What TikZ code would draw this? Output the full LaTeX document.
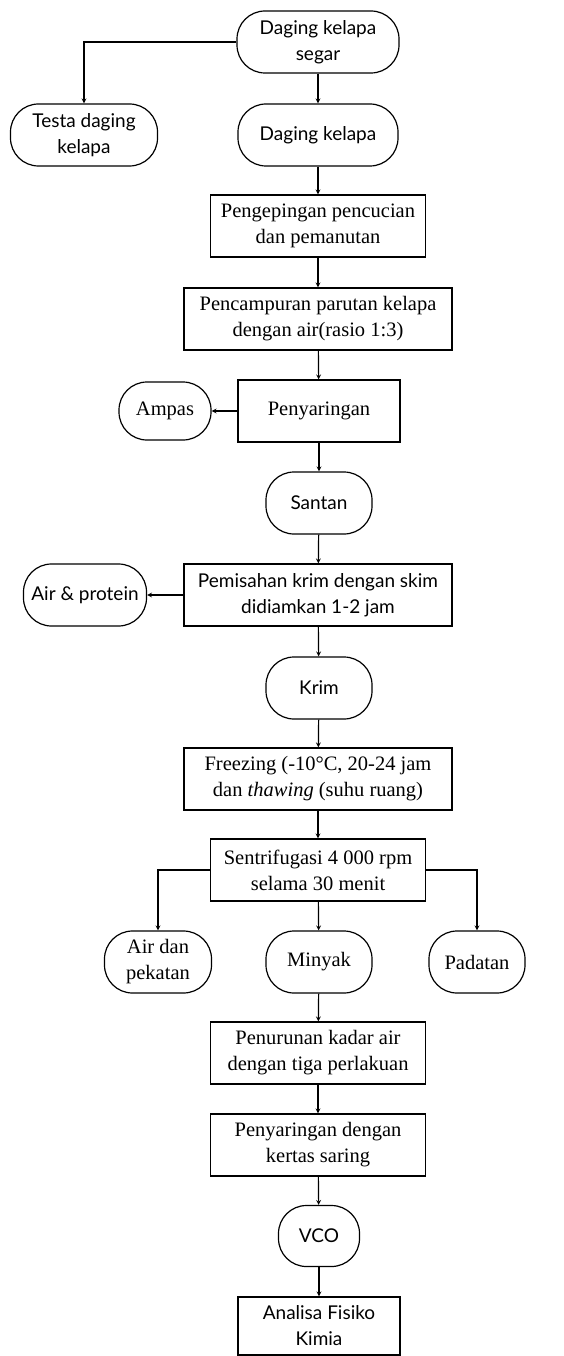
\documentclass[tikz,border=0pt]{standalone}
\usepackage{fontspec}
\setmainfont{Liberation Serif}
\newfontfamily\gillfont{Lato}

\begin{document}
\begin{tikzpicture}[x=1pt, y=-1pt, line width=1.2pt, >=stealth,
    font=\fontsize{20.5}{26}\selectfont,
    proses/.style={draw, align=center, minimum height=62pt, inner sep=1pt},
    hasil/.style={draw, rounded corners=28pt, align=center, minimum height=62pt, inner sep=1pt},
    sans/.style={font=\fontsize{19}{26}\selectfont\gillfont}]
    \useasboundingbox (0, 0) rectangle (563, 1356);
    \node[hasil, sans, minimum width=162pt] (segar) at (318, 42) {Daging kelapa\\segar};
    \node[hasil, sans, minimum width=147pt] (testa) at (84, 135) {Testa daging\\kelapa};
    \node[hasil, sans, minimum width=160pt] (daging) at (318, 135) {Daging kelapa};
    \node[proses, minimum width=215pt] (keping) at (318, 226) {Pengepingan pencucian\\dan pemanutan};
    \node[proses, minimum width=268pt] (campur) at (318, 319) {Pencampuran parutan kelapa\\dengan air(rasio 1:3)};
    \node[proses, minimum width=162pt] (saring) at (319, 411) {Penyaringan};
    \node[hasil, minimum width=92pt, minimum height=58pt] (ampas) at (165, 411) {Ampas};
    \node[hasil, sans, minimum width=106pt] (santan) at (319, 503) {Santan};
    \node[proses, sans, minimum width=268pt] (pisah) at (318, 595) {Pemisahan krim dengan skim\\didiamkan 1-2 jam};
    \node[hasil, sans, minimum width=123pt] (airprot) at (85, 595) {Air \& protein};
    \node[hasil, sans, minimum width=106pt] (krim) at (319, 688) {Krim};
    \node[proses, minimum width=268pt] (beku) at (318, 779) {Freezing (-10°C, 20-24 jam\\dan \textit{thawing} (suhu ruang)};
    \node[proses, minimum width=215pt] (sentri) at (318, 870) {Sentrifugasi 4 000 rpm\\selama 30 menit};
    \node[hasil, minimum width=107pt] (pekat) at (158, 962) {Air dan\\pekatan};
    \node[hasil, minimum width=106pt] (minyak) at (319, 962) {Minyak};
    \node[hasil, minimum width=96pt] (padat) at (477, 962) {Padatan};
    \node[proses, minimum width=215pt] (turun) at (318, 1053) {Penurunan kadar air\\dengan tiga perlakuan};
    \node[proses, minimum width=215pt] (kertas) at (318, 1145) {Penyaringan dengan\\kertas saring};
    \node[hasil, sans, minimum width=81pt, minimum height=61pt] (vco) at (319, 1236) {VCO};
    \node[proses, sans, minimum width=162pt, minimum height=58pt] (analisa) at (319, 1326) {Analisa Fisiko\\Kimia};
    \draw[->] (segar) -| (testa);
    \draw[->] (sentri) -| (pekat);
    \draw[->] (sentri) -| (padat);
    \path[->]
    (segar) edge (daging)
    (daging) edge (keping)
    (keping) edge (campur)
    (campur) edge (saring)
    (saring) edge (ampas)
    (saring) edge (santan)
    (santan) edge (pisah)
    (pisah) edge (airprot)
    (pisah) edge (krim)
    (krim) edge (beku)
    (beku) edge (sentri)
    (sentri) edge (minyak)
    (minyak) edge (turun)
    (turun) edge (kertas)
    (kertas) edge (vco)
    (vco) edge (analisa);
  \end{tikzpicture}
\end{document}
